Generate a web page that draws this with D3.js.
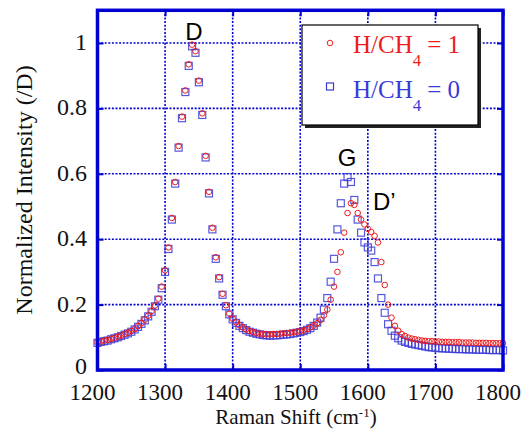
<!DOCTYPE html>
<html>
<head>
<meta charset="utf-8">
<script src="https://cdn.jsdelivr.net/npm/d3@7"></script>
<style>
  body { margin: 0; background: #fff; }
</style>
</head>
<body>
<div id="chart"></div>
<script>
// Raman shift (cm-1)
var shift = [1200,1205,1210,1215,1220,1225,1230,1235,1240,1245,1250,1255,1260,1265,1270,1275,1280,1285,1290,1295,
  1300,1305,1310,1315,1320,1325,1330,1335,1340,1345,1350,1355,1360,1365,1370,1375,1380,1385,1390,1395,
  1400,1405,1410,1415,1420,1425,1430,1435,1440,1445,1450,1455,1460,1465,1470,1475,1480,1485,1490,1495,
  1500,1505,1510,1515,1520,1525,1530,1535,1540,1545,1550,1555,1560,1565,1570,1575,1580,1585,1590,1595,
  1600,1605,1610,1615,1620,1625,1630,1635,1640,1645,1650,1655,1660,1665,1670,1675,1680,1685,1690,1695,
  1700,1705,1710,1715,1720,1725,1730,1735,1740,1745,1750,1755,1760,1765,1770,1775,1780,1785,1790,1795,1800];

// H/CH4 = 1 (red circles)
var ratio1 = [0.085,0.087,0.090,0.092,0.095,0.098,0.102,0.105,0.110,0.114,0.119,0.125,0.134,0.143,0.154,0.166,0.180,0.197,0.218,0.255,
  0.305,0.375,0.465,0.575,0.685,0.775,0.855,0.935,0.995,0.975,0.885,0.785,0.655,0.545,0.435,0.345,0.284,0.233,0.198,0.172,
  0.157,0.146,0.137,0.130,0.124,0.119,0.116,0.113,0.111,0.110,0.109,0.109,0.110,0.110,0.111,0.112,0.113,0.114,0.115,0.117,
  0.119,0.121,0.125,0.130,0.136,0.143,0.153,0.167,0.185,0.215,0.255,0.300,0.360,0.420,0.480,0.510,0.505,0.480,0.460,0.445,
  0.432,0.422,0.410,0.390,0.330,0.260,0.200,0.160,0.135,0.120,0.110,0.104,0.099,0.096,0.094,0.092,0.090,0.089,0.088,0.088,
  0.087,0.087,0.086,0.086,0.086,0.085,0.085,0.085,0.084,0.084,0.084,0.084,0.083,0.083,0.083,0.083,0.082,0.082,0.082,0.082,0.082];

// H/CH4 = 0 (blue squares)
var ratio0 = [0.083,0.086,0.088,0.090,0.094,0.097,0.100,0.104,0.108,0.112,0.117,0.124,0.132,0.141,0.152,0.164,0.178,0.195,0.215,0.250,
  0.300,0.370,0.460,0.570,0.680,0.770,0.850,0.930,0.990,0.970,0.880,0.780,0.650,0.540,0.430,0.340,0.280,0.230,0.195,0.170,
  0.155,0.144,0.135,0.128,0.122,0.117,0.114,0.111,0.109,0.107,0.106,0.105,0.106,0.106,0.107,0.108,0.109,0.110,0.112,0.114,
  0.116,0.119,0.123,0.128,0.135,0.145,0.160,0.185,0.220,0.270,0.340,0.430,0.510,0.570,0.590,0.575,0.520,0.460,0.420,0.390,
  0.375,0.365,0.330,0.280,0.220,0.175,0.140,0.120,0.105,0.097,0.090,0.086,0.083,0.080,0.078,0.076,0.074,0.072,0.070,0.069,
  0.068,0.067,0.066,0.066,0.065,0.065,0.064,0.064,0.064,0.063,0.063,0.063,0.062,0.062,0.062,0.062,0.061,0.061,0.061,0.061,0.060];

var xTicks = [1200,1300,1400,1500,1600,1700,1800];
var yTicks = [0,0.2,0.4,0.6,0.8,1];

var W = 531, H = 432;
var blue = "#0000d2", red = "#ee1c1c", markBlue = "#3a3ad8";
var serif = "'Liberation Serif', 'Times New Roman', Times, serif";
var sans = "'Liberation Sans', Arial, sans-serif";

var svg = d3.select("#chart").append("svg")
    .attr("width", W)
    .attr("height", H);

var x = d3.scaleLinear().domain([1200, 1800]).range([97.5, 503]);
var y = d3.scaleLinear().domain([0, 1.1]).range([370, 10.3]);

// grid
svg.append("g").selectAll("line")
    .data(xTicks.slice(1, -1))
    .enter().append("line")
    .attr("x1", function(d) { return x(d); })
    .attr("x2", function(d) { return x(d); })
    .attr("y1", y(1.1)).attr("y2", y(0))
    .attr("stroke", blue).attr("stroke-width", 1.6)
    .attr("stroke-dasharray", "2,1.6");

svg.append("g").selectAll("line")
    .data(yTicks.slice(1))
    .enter().append("line")
    .attr("x1", x(1200)).attr("x2", x(1800))
    .attr("y1", function(d) { return y(d); })
    .attr("y2", function(d) { return y(d); })
    .attr("stroke", blue).attr("stroke-width", 1.6)
    .attr("stroke-dasharray", "2,1.6");

// data: blue squares below, red circles on top
var pts0 = shift.map(function(s, i) { return [s, ratio0[i]]; });
var pts1 = shift.map(function(s, i) { return [s, ratio1[i]]; });

svg.append("g").selectAll("rect")
    .data(pts0)
    .enter().append("rect")
    .attr("x", function(d) { return x(d[0]) - 3.5; })
    .attr("y", function(d) { return y(d[1]) - 3.5; })
    .attr("width", 7).attr("height", 7)
    .attr("fill", "none")
    .attr("stroke", markBlue).attr("stroke-width", 1.2)
    .attr("stroke-opacity", 0.85);

svg.append("g").selectAll("circle")
    .data(pts1)
    .enter().append("circle")
    .attr("cx", function(d) { return x(d[0]); })
    .attr("cy", function(d) { return y(d[1]); })
    .attr("r", 2.8)
    .attr("fill", "none")
    .attr("stroke", red).attr("stroke-width", 1);

// frame
svg.append("rect")
    .attr("x", x(1200)).attr("y", y(1.1))
    .attr("width", x(1800) - x(1200)).attr("height", y(0) - y(1.1))
    .attr("fill", "none").attr("stroke", blue).attr("stroke-width", 3.5);

// inward ticks
var xAxisB = d3.axisBottom(x).tickValues(xTicks).tickSize(-6).tickFormat("");
var xAxisT = d3.axisTop(x).tickValues(xTicks).tickSize(-6).tickFormat("");
var yAxisL = d3.axisLeft(y).tickValues(yTicks).tickSize(-6).tickFormat("");
var yAxisR = d3.axisRight(y).tickValues(yTicks).tickSize(-6).tickFormat("");
[[xAxisB, "translate(0," + y(0) + ")"], [xAxisT, "translate(0," + y(1.1) + ")"],
 [yAxisL, "translate(" + x(1200) + ",0)"], [yAxisR, "translate(" + x(1800) + ",0)"]].forEach(function(a) {
  var g = svg.append("g").attr("transform", a[1]).call(a[0]);
  g.select(".domain").remove();
  g.selectAll("line").attr("stroke", blue).attr("stroke-width", 2);
});

// tick labels
svg.append("g").selectAll("text")
    .data(xTicks)
    .enter().append("text")
    .attr("x", function(d) { return x(d) - 5; })
    .attr("y", 400)
    .attr("text-anchor", "middle")
    .style("font-family", serif)
    .style("font-size", "23px")
    .attr("fill", "#111")
    .text(function(d) { return d; });

svg.append("g").selectAll("text")
    .data(yTicks)
    .enter().append("text")
    .attr("x", 87)
    .attr("y", function(d) { return d === 0 ? y(d) + 4 : y(d) + 7; })
    .attr("text-anchor", "end")
    .style("font-family", serif)
    .style("font-size", "24px")
    .attr("fill", "#111")
    .text(function(d) { return d; });

// axis titles
var xt = svg.append("text")
    .attr("x", 296).attr("y", 424)
    .attr("text-anchor", "middle")
    .style("font-family", serif)
    .style("font-size", "21px")
    .attr("fill", "#111");
xt.append("tspan").text("Raman Shift (cm");
xt.append("tspan").attr("dy", -7).style("font-size", "13px").text("-1");
xt.append("tspan").attr("dy", 7).text(")");

svg.append("text")
    .attr("transform", "translate(32,190) rotate(-90)")
    .attr("text-anchor", "middle")
    .style("font-family", serif)
    .style("font-size", "24px")
    .attr("fill", "#111")
    .text("Normalized Intensity (/D)");

// peak labels
var peaks = [["D", 194, 40, "middle"], ["G", 347, 166, "middle"], ["D\u2019", 373, 210, "start"]];
svg.append("g").selectAll("text")
    .data(peaks)
    .enter().append("text")
    .attr("x", function(d) { return d[1]; })
    .attr("y", function(d) { return d[2]; })
    .attr("text-anchor", function(d) { return d[3]; })
    .style("font-family", sans)
    .style("font-size", "24px")
    .attr("fill", "#000")
    .text(function(d) { return d[0]; });

// legend
var lg = svg.append("g").attr("transform", "translate(302,25)");
lg.append("rect").attr("x", 3).attr("y", 3).attr("width", 176).attr("height", 100).attr("fill", "#222");
lg.append("rect").attr("x", 0).attr("y", 0).attr("width", 176).attr("height", 100)
    .attr("fill", "#fff").attr("stroke", "#000").attr("stroke-width", 1.2);
lg.append("circle").attr("cx", 28).attr("cy", 18).attr("r", 2.8)
    .attr("fill", "none").attr("stroke", red);
lg.append("rect").attr("x", 24.5).attr("y", 58).attr("width", 7).attr("height", 7)
    .attr("fill", "none").attr("stroke", markBlue).attr("stroke-width", 1.2);

var legendRows = [["1", red, 28], ["0", markBlue, 73]];
legendRows.forEach(function(r) {
  var t = lg.append("text").attr("x", 51).attr("y", r[2])
      .style("font-family", serif)
      .style("font-size", "25px").attr("fill", r[1]);
  t.append("tspan").text("H/CH");
  t.append("tspan").attr("dy", 13).style("font-size", "17px").text("4");
  t.append("tspan").attr("dy", -13).attr("dx", 6).text("= " + r[0]);
});
</script>
</body>
</html>
